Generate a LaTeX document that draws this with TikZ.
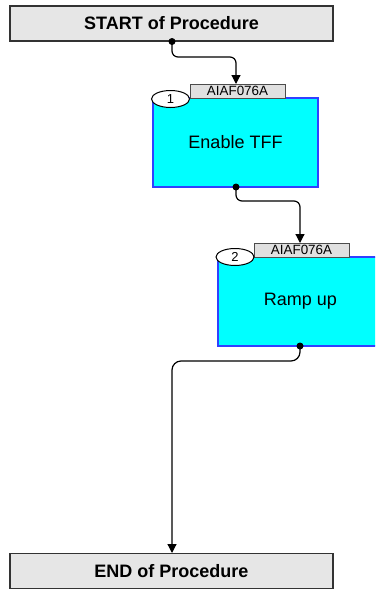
\documentclass[tikz,border=0pt]{standalone}
\usepackage{fontspec}
\setmainfont{Liberation Sans}
\usetikzlibrary{shapes.geometric,arrows.meta}
\definecolor{boxgray}{HTML}{E6E6E6}
\definecolor{taggray}{HTML}{E0E0E0}
\definecolor{stepcyan}{HTML}{00FFFF}
\definecolor{stepblue}{HTML}{3040FF}
\tikzset{
  termbox/.style={draw=black!80, line width=1.3pt, fill=boxgray, minimum width=323pt, minimum height=35pt, inner sep=0pt, font=\fontsize{18}{18}\selectfont\bfseries},
  stepbox/.style={draw=stepblue, line width=1.2pt, fill=stepcyan, minimum width=165pt, minimum height=89pt, inner sep=0pt, font=\fontsize{18}{18}\selectfont},
  tagbox/.style={draw=black!70, line width=1pt, fill=taggray, minimum width=95pt, minimum height=14pt, inner sep=0pt, font=\fontsize{13.4}{13.4}\selectfont},
  numoval/.style={ellipse, draw=black, line width=1pt, fill=white, minimum width=38pt, minimum height=17pt, inner sep=0pt, font=\fontsize{13}{13}\selectfont},
  conn/.style={line width=1.2pt, rounded corners=6pt, -{Triangle[width=9pt,length=9pt]}},
  dotmark/.style={circle, fill=black, inner sep=0pt, minimum size=7pt}
}
\begin{document}
\begin{tikzpicture}[x=1pt,y=-1pt]
\useasboundingbox (0,0) rectangle (375,589);
\clip (0,0) rectangle (375,589);
\node[termbox] (start) at (171.5,23.5) {START of Procedure};
\node[termbox] (end) at (171.5,571) {END of Procedure};
% step 1
\node[stepbox] (s1) at (235.5,142.5) {Enable TFF};
\node[tagbox] (t1) at (237.5,91) {AIAF076A};
\node[numoval] (n1) at (170.5,99) {1};
% step 2
\node[stepbox] (s2) at (300.5,301.5) {Ramp up};
\node[tagbox] (t2) at (301.5,250) {AIAF076A};
\node[numoval] (n2) at (235,257) {2};
% connectors
\coordinate (c1) at (172,41.5);
\coordinate (a1) at (236,84);
\draw[conn] (c1) |- (236,57) -- (a1);
\node[dotmark] (d1) at (c1) {};
\coordinate (c2) at (236,187);
\coordinate (a2) at (300,243);
\draw[conn] (c2) |- (300,201) -- (a2);
\node[dotmark] (d2) at (c2) {};
\coordinate (c3) at (300,346);
\coordinate (a3) at (172,553);
\draw[conn, rounded corners=9pt] (c3) -- (300,361) -- (172,361) -- (a3);
\node[dotmark] (d3) at (c3) {};
\end{tikzpicture}
\end{document}
